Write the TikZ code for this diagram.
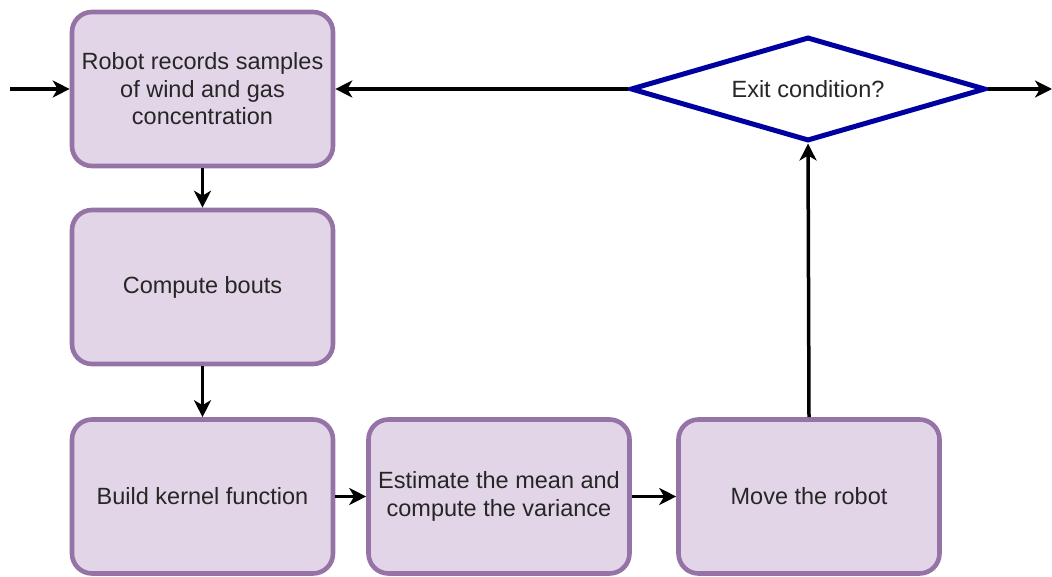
\documentclass[tikz,border=0pt]{standalone}
\usepackage{fontspec}
\setmainfont{Liberation Sans}
\usetikzlibrary{shapes.geometric,arrows.meta}
\definecolor{boxfill}{HTML}{E1D5E7}
\definecolor{boxdraw}{HTML}{9673A6}
\definecolor{diadraw}{HTML}{0000A0}
\begin{document}
\begin{tikzpicture}[x=1pt,y=-1pt,
  lbl/.style={font=\fontsize{23.5}{27.5}\selectfont, text=black!85, align=center},
  procbox/.style={lbl, rectangle, rounded corners=20pt, draw=boxdraw, fill=boxfill,
    line width=4.6pt, minimum width=261pt, minimum height=154pt, inner sep=2pt},
  decision/.style={lbl, diamond, aspect=3.5, draw=diadraw, fill=white, line width=5pt,
    minimum width=355pt, minimum height=104pt, inner sep=0pt},
  conn/.style={line width=3.5pt, -{Stealth[length=17pt,width=17pt,inset=5pt]}}]
\useasboundingbox (0,0) rectangle (1052,577);
\node[procbox] (b1) at (202.5,89) {Robot records samples\\of wind and gas\\concentration};
\node[procbox] (b2) at (202.5,287) {Compute bouts};
\node[procbox] (b3) at (202.5,496.5) {Build kernel function};
\node[procbox] (b4) at (499,496.5) {Estimate the mean and\\compute the variance};
\node[procbox] (b5) at (809,496.5) {Move the robot};
\node[decision] (d) at (808,89) {Exit condition?};
\coordinate (in) at (10,89);
\coordinate (out) at (1052,89);
\draw[conn] (in) -- (b1.west);
\draw[conn] (d.west) -- (b1.east);
\draw[conn] (d.east) -- (out);
\draw[conn] (b1.south) -- (b2.north);
\draw[conn] (b2.south) -- (b3.north);
\draw[conn] (b3.east) -- (b4.west);
\draw[conn] (b4.east) -- (b5.west);
\draw[conn] (b5.north) -- (d.south);
\end{tikzpicture}
\end{document}
